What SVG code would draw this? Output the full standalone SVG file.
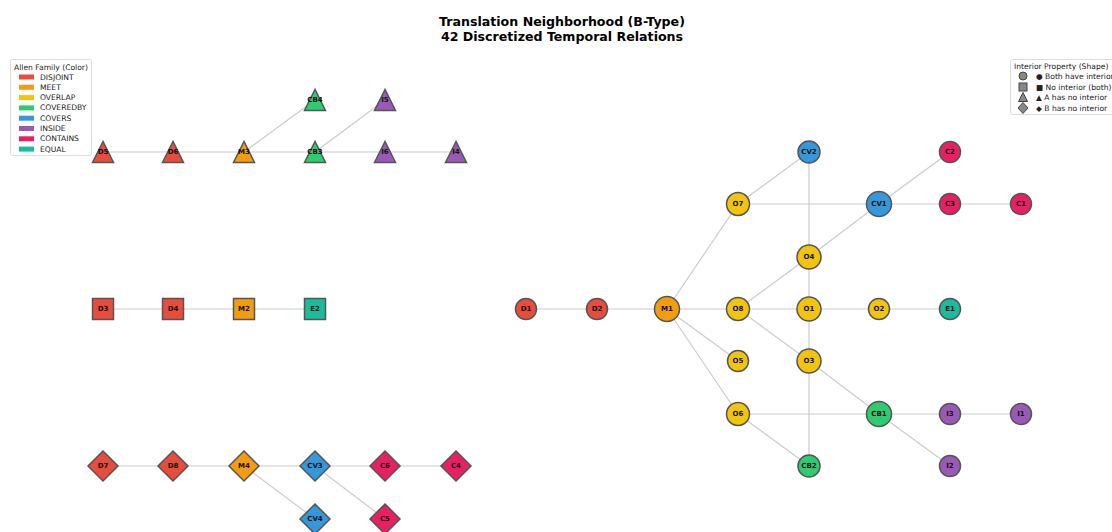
<svg xmlns="http://www.w3.org/2000/svg" width="1112" height="532" viewBox="0 0 1112 532">
<style>
.t{font-family:"DejaVu Sans",sans-serif;font-weight:bold;font-size:12.6px;fill:#000;text-anchor:middle}
.lb{font-family:"DejaVu Sans",sans-serif;font-weight:bold;font-size:7px;fill:#111;text-anchor:middle;dominant-baseline:central}
.lg{font-family:"DejaVu Sans",sans-serif;font-size:7.6px;fill:#222}
.e line{stroke:#cccccc;stroke-width:1.2}
.n{stroke:#555;stroke-width:1.5}
.DIS{fill:#e74c3c}.MEET{fill:#f39c12}.OV{fill:#f1c40f}.CB{fill:#2ecc71}.CV{fill:#3498db}.IN{fill:#9b59b6}.CO{fill:#e91e63}.EQ{fill:#1abc9c}
.ls{fill:#888;stroke:#444;stroke-width:1}
</style>
<defs>
<polygon id="tri" points="0,-10.5 -10.5,10.5 10.5,10.5"/>
<rect id="sq" x="-10.5" y="-10.5" width="21" height="21"/>
<polygon id="dia" points="0,-15 15,0 0,15 -15,0"/>
</defs>
<rect width="1112" height="532" fill="#fff"/>
<text class="t" x="562" y="26">Translation Neighborhood (B-Type)</text>
<text class="t" x="562" y="41">42 Discretized Temporal Relations</text>

<g id="connectors" class="e">
<line x1="103" y1="152" x2="456" y2="152"/>
<line x1="244" y1="152" x2="315" y2="100"/>
<line x1="315" y1="152" x2="385" y2="100"/>
<line x1="103" y1="309" x2="315" y2="309"/>
<line x1="103" y1="466" x2="456" y2="466"/>
<line x1="244" y1="466" x2="315" y2="519"/>
<line x1="315" y1="466" x2="385" y2="519"/>
<line x1="526" y1="309" x2="950" y2="309"/>
<line x1="667" y1="309" x2="738" y2="204"/>
<line x1="667" y1="309" x2="738" y2="361"/>
<line x1="667" y1="309" x2="738" y2="414"/>
<line x1="738" y1="204" x2="809" y2="152"/>
<line x1="738" y1="204" x2="879" y2="204"/>
<line x1="879" y1="204" x2="1021" y2="204"/>
<line x1="879" y1="204" x2="950" y2="152"/>
<line x1="809" y1="152" x2="809" y2="466"/>
<line x1="809" y1="257" x2="879" y2="204"/>
<line x1="738" y1="309" x2="809" y2="257"/>
<line x1="738" y1="309" x2="809" y2="361"/>
<line x1="809" y1="361" x2="879" y2="414"/>
<line x1="738" y1="414" x2="1021" y2="414"/>
<line x1="738" y1="414" x2="809" y2="466"/>
<line x1="879" y1="414" x2="950" y2="466"/>
</g>

<g id="D5"><use href="#tri" x="103" y="152" class="n DIS"/><text class="lb" x="103" y="152">D5</text></g>
<g id="D6"><use href="#tri" x="173" y="152" class="n DIS"/><text class="lb" x="173" y="152">D6</text></g>
<g id="M3"><use href="#tri" x="244" y="152" class="n MEET"/><text class="lb" x="244" y="152">M3</text></g>
<g id="CB3"><use href="#tri" x="315" y="152" class="n CB"/><text class="lb" x="315" y="152">CB3</text></g>
<g id="I6"><use href="#tri" x="385" y="152" class="n IN"/><text class="lb" x="385" y="152">I6</text></g>
<g id="I4"><use href="#tri" x="456" y="152" class="n IN"/><text class="lb" x="456" y="152">I4</text></g>
<g id="CB4"><use href="#tri" x="315" y="100" class="n CB"/><text class="lb" x="315" y="100">CB4</text></g>
<g id="I5"><use href="#tri" x="385" y="100" class="n IN"/><text class="lb" x="385" y="100">I5</text></g>

<g id="D3"><use href="#sq" x="103" y="309" class="n DIS"/><text class="lb" x="103" y="309">D3</text></g>
<g id="D4"><use href="#sq" x="173" y="309" class="n DIS"/><text class="lb" x="173" y="309">D4</text></g>
<g id="M2"><use href="#sq" x="244" y="309" class="n MEET"/><text class="lb" x="244" y="309">M2</text></g>
<g id="E2"><use href="#sq" x="315" y="309" class="n EQ"/><text class="lb" x="315" y="309">E2</text></g>

<g id="D7"><use href="#dia" x="103" y="466" class="n DIS"/><text class="lb" x="103" y="466">D7</text></g>
<g id="D8"><use href="#dia" x="173" y="466" class="n DIS"/><text class="lb" x="173" y="466">D8</text></g>
<g id="M4"><use href="#dia" x="244" y="466" class="n MEET"/><text class="lb" x="244" y="466">M4</text></g>
<g id="CV3"><use href="#dia" x="315" y="466" class="n CV"/><text class="lb" x="315" y="466">CV3</text></g>
<g id="C6"><use href="#dia" x="385" y="466" class="n CO"/><text class="lb" x="385" y="466">C6</text></g>
<g id="C4"><use href="#dia" x="456" y="466" class="n CO"/><text class="lb" x="456" y="466">C4</text></g>
<g id="CV4"><use href="#dia" x="315" y="519" class="n CV"/><text class="lb" x="315" y="519">CV4</text></g>
<g id="C5"><use href="#dia" x="385" y="519" class="n CO"/><text class="lb" x="385" y="519">C5</text></g>

<g id="D1"><circle cx="526" cy="309" r="10.5" class="n DIS"/><text class="lb" x="526" y="309">D1</text></g>
<g id="D2"><circle cx="597" cy="309" r="10.5" class="n DIS"/><text class="lb" x="597" y="309">D2</text></g>
<g id="M1"><circle cx="667" cy="309" r="12.5" class="n MEET"/><text class="lb" x="667" y="309">M1</text></g>
<g id="O8"><circle cx="738" cy="309" r="11.5" class="n OV"/><text class="lb" x="738" y="309">O8</text></g>
<g id="O1"><circle cx="809" cy="309" r="12" class="n OV"/><text class="lb" x="809" y="309">O1</text></g>
<g id="O2"><circle cx="879" cy="309" r="10.5" class="n OV"/><text class="lb" x="879" y="309">O2</text></g>
<g id="E1"><circle cx="950" cy="309" r="10.5" class="n EQ"/><text class="lb" x="950" y="309">E1</text></g>
<g id="O7"><circle cx="738" cy="204" r="11.5" class="n OV"/><text class="lb" x="738" y="204">O7</text></g>
<g id="CV1"><circle cx="879" cy="204" r="12.5" class="n CV"/><text class="lb" x="879" y="204">CV1</text></g>
<g id="C3"><circle cx="950" cy="204" r="10.5" class="n CO"/><text class="lb" x="950" y="204">C3</text></g>
<g id="C1"><circle cx="1021" cy="204" r="10.5" class="n CO"/><text class="lb" x="1021" y="204">C1</text></g>
<g id="CV2"><circle cx="809" cy="152" r="11" class="n CV"/><text class="lb" x="809" y="152">CV2</text></g>
<g id="C2"><circle cx="950" cy="152" r="10.5" class="n CO"/><text class="lb" x="950" y="152">C2</text></g>
<g id="O4"><circle cx="809" cy="257" r="12" class="n OV"/><text class="lb" x="809" y="257">O4</text></g>
<g id="O5"><circle cx="738" cy="361" r="10.5" class="n OV"/><text class="lb" x="738" y="361">O5</text></g>
<g id="O3"><circle cx="809" cy="361" r="12" class="n OV"/><text class="lb" x="809" y="361">O3</text></g>
<g id="O6"><circle cx="738" cy="414" r="11.5" class="n OV"/><text class="lb" x="738" y="414">O6</text></g>
<g id="CB1"><circle cx="879" cy="414" r="12.5" class="n CB"/><text class="lb" x="879" y="414">CB1</text></g>
<g id="I3"><circle cx="950" cy="414" r="10.5" class="n IN"/><text class="lb" x="950" y="414">I3</text></g>
<g id="I1"><circle cx="1021" cy="414" r="10.5" class="n IN"/><text class="lb" x="1021" y="414">I1</text></g>
<g id="CB2"><circle cx="809" cy="466" r="11" class="n CB"/><text class="lb" x="809" y="466">CB2</text></g>
<g id="I2"><circle cx="950" cy="466" r="10.5" class="n IN"/><text class="lb" x="950" y="466">I2</text></g>

<g id="legend-color">
<rect x="10.5" y="59.5" width="81" height="96" rx="2" fill="#fff" fill-opacity="0.8" stroke="#ddd"/>
<text class="lg" x="51" y="69.5" text-anchor="middle">Allen Family (Color)</text>
<rect x="19" y="74.5" width="15" height="5" class="DIS"/><text class="lg" x="40" y="79.5">DISJOINT</text>
<rect x="19" y="84.8" width="15" height="5" class="MEET"/><text class="lg" x="40" y="89.8">MEET</text>
<rect x="19" y="95.1" width="15" height="5" class="OV"/><text class="lg" x="40" y="100.1">OVERLAP</text>
<rect x="19" y="105.4" width="15" height="5" class="CB"/><text class="lg" x="40" y="110.4">COVEREDBY</text>
<rect x="19" y="115.7" width="15" height="5" class="CV"/><text class="lg" x="40" y="120.7">COVERS</text>
<rect x="19" y="126" width="15" height="5" class="IN"/><text class="lg" x="40" y="131">INSIDE</text>
<rect x="19" y="136.3" width="15" height="5" class="CO"/><text class="lg" x="40" y="141.3">CONTAINS</text>
<rect x="19" y="146.6" width="15" height="5" class="EQ"/><text class="lg" x="40" y="151.6">EQUAL</text>
</g>

<g id="legend-shape">
<rect x="1010.5" y="59.5" width="104" height="55" rx="2" fill="#fff" fill-opacity="0.8" stroke="#ddd"/>
<text class="lg" x="1014" y="69">Interior Property (Shape)</text>
<circle cx="1023" cy="76" r="4" class="ls"/><text class="lg" x="1036" y="78.5">● Both have interior</text>
<rect x="1019" y="83" width="8" height="8" class="ls"/><text class="lg" x="1036" y="89.5">■ No interior (both)</text>
<polygon points="1023,92.5 1018.5,101.5 1027.5,101.5" class="ls"/><text class="lg" x="1036" y="100">▲ A has no interior</text>
<polygon points="1023,102.5 1028,108 1023,113.5 1018,108" class="ls"/><text class="lg" x="1036" y="110.5">◆ B has no interior</text>
</g>
</svg>
